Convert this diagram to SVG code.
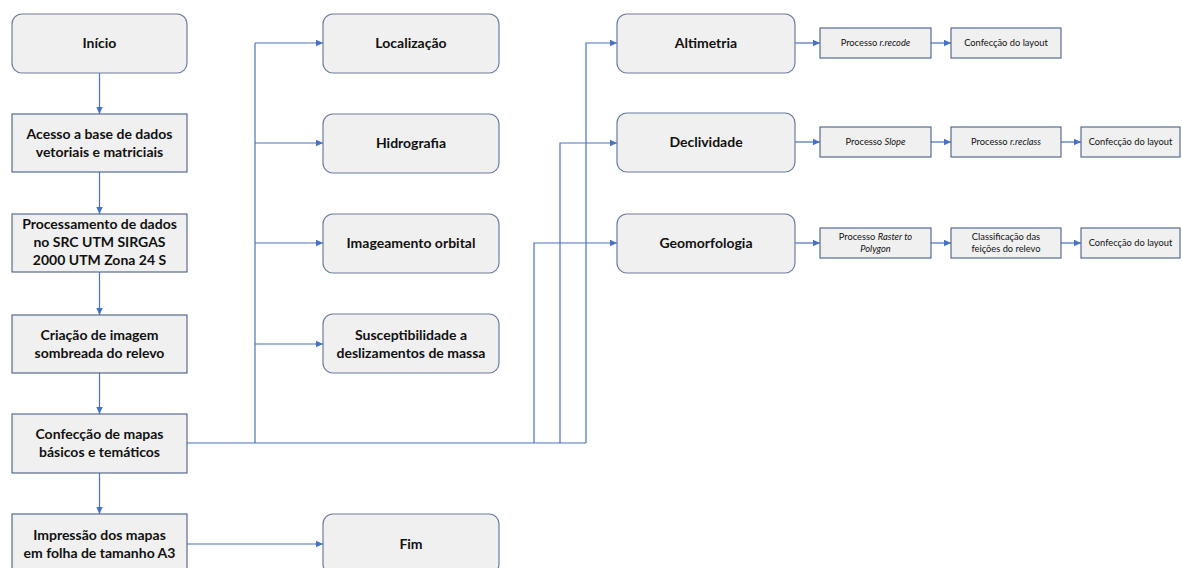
<svg xmlns="http://www.w3.org/2000/svg" width="1182" height="568" viewBox="0 0 1182 568">
<defs>
<marker id="ah" markerUnits="userSpaceOnUse" markerWidth="8" markerHeight="8" refX="7" refY="4" orient="auto">
<path d="M0,0.8 L7,4 L0,7.2 Z" fill="#4472c4"/>
</marker>
<style>
.rb{fill:#f0f0f0;stroke:#6a7d9e;stroke-width:1.2}
.sq{fill:#f0f0f0;stroke:#4a5f85;stroke-width:1.1}
.big{font-family:Lato,"Liberation Sans",sans-serif;font-weight:700;font-size:14px;fill:#111;text-anchor:middle}
.sm{font-family:Lato,"Liberation Sans",sans-serif;font-size:9.3px;fill:#111;text-anchor:middle}
.c{fill:none;stroke:#4472c4;stroke-width:1.2}
.ca{fill:none;stroke:#4472c4;stroke-width:1.2;marker-end:url(#ah)}
</style>
</defs>
<rect width="1182" height="568" fill="#fff"/>
<g id="connectors">
<path class="ca" d="M99.5,73 V114"/>
<path class="ca" d="M99.5,172 V214"/>
<path class="ca" d="M99.5,272 V315"/>
<path class="ca" d="M99.5,373 V414"/>
<path class="ca" d="M99.5,473 V514"/>
<path class="c" d="M187,443 H586"/>
<path class="c" d="M255,443 V43"/>
<path class="ca" d="M255,43 H323"/>
<path class="ca" d="M255,143 H323"/>
<path class="ca" d="M255,243 H323"/>
<path class="ca" d="M255,344 H323"/>
<path class="ca" d="M187,544 H323"/>
<path class="ca" d="M586,443 V43 H617"/>
<path class="ca" d="M560,443 V143 H617"/>
<path class="ca" d="M534,443 V243 H617"/>
<path class="ca" d="M795,43 H820"/>
<path class="ca" d="M931,43 H951"/>
<path class="ca" d="M795,142 H820"/>
<path class="ca" d="M931,142 H951"/>
<path class="ca" d="M1061,142 H1081"/>
<path class="ca" d="M795,243 H820"/>
<path class="ca" d="M931,243 H951"/>
<path class="ca" d="M1061,243 H1081"/>
</g>
<g id="inicio"><rect class="rb" x="12" y="14" width="175" height="59" rx="10"/><text class="big" x="99.5" y="48">Início</text></g>
<g id="acesso"><rect class="sq" x="12" y="114" width="175" height="58"/><text class="big" x="99.5" y="139">Acesso a base de dados</text><text class="big" x="99.5" y="157">vetoriais e matriciais</text></g>
<g id="processamento"><rect class="sq" x="12" y="214" width="175" height="58"/><text class="big" x="99.5" y="229">Processamento de dados</text><text class="big" x="99.5" y="247">no SRC UTM SIRGAS</text><text class="big" x="99.5" y="265">2000 UTM Zona 24 S</text></g>
<g id="criacao"><rect class="sq" x="12" y="315" width="175" height="58"/><text class="big" x="99.5" y="340">Criação de imagem</text><text class="big" x="99.5" y="358">sombreada do relevo</text></g>
<g id="confeccao"><rect class="sq" x="12" y="414" width="175" height="59"/><text class="big" x="99.5" y="439">Confecção de mapas</text><text class="big" x="99.5" y="457">básicos e temáticos</text></g>
<g id="impressao"><rect class="sq" x="12" y="514" width="175" height="60"/><text class="big" x="99.5" y="540">Impressão dos mapas</text><text class="big" x="99.5" y="558">em folha de tamanho A3</text></g>
<g id="localizacao"><rect class="rb" x="323" y="14" width="176" height="59" rx="10"/><text class="big" x="411" y="48">Localização</text></g>
<g id="hidrografia"><rect class="rb" x="323" y="114" width="176" height="59" rx="10"/><text class="big" x="411" y="148">Hidrografia</text></g>
<g id="imageamento"><rect class="rb" x="323" y="214" width="176" height="59" rx="10"/><text class="big" x="411" y="248">Imageamento orbital</text></g>
<g id="susceptibilidade"><rect class="rb" x="323" y="314" width="176" height="59" rx="10"/><text class="big" x="411" y="340">Susceptibilidade a</text><text class="big" x="411" y="358">deslizamentos de massa</text></g>
<g id="fim"><rect class="rb" x="323" y="514" width="176" height="60" rx="10"/><text class="big" x="411" y="549">Fim</text></g>
<g id="altimetria"><rect class="rb" x="617" y="14" width="178" height="59" rx="10"/><text class="big" x="706" y="48">Altimetria</text></g>
<g id="declividade"><rect class="rb" x="617" y="113" width="178" height="59" rx="10"/><text class="big" x="706" y="147">Declividade</text></g>
<g id="geomorfologia"><rect class="rb" x="617" y="214" width="178" height="59" rx="10"/><text class="big" x="706" y="248">Geomorfologia</text></g>
<g id="recode"><rect class="sq" x="820" y="28" width="111" height="30"/><text class="sm" x="875.5" y="46">Processo <tspan font-style="italic">r.recode</tspan></text></g>
<g id="layout1"><rect class="sq" x="951" y="28" width="110" height="30"/><text class="sm" x="1006" y="46">Confecção do layout</text></g>
<g id="slope"><rect class="sq" x="820" y="127" width="111" height="30"/><text class="sm" x="875.5" y="145">Processo <tspan font-style="italic">Slope</tspan></text></g>
<g id="reclass"><rect class="sq" x="951" y="127" width="110" height="30"/><text class="sm" x="1006" y="145">Processo <tspan font-style="italic">r.reclass</tspan></text></g>
<g id="layout2"><rect class="sq" x="1081" y="127" width="99" height="30"/><text class="sm" x="1130.5" y="145">Confecção do layout</text></g>
<g id="raster"><rect class="sq" x="820" y="228" width="111" height="30"/><text class="sm" x="875.5" y="240">Processo <tspan font-style="italic">Raster to</tspan></text><text class="sm" x="875.5" y="252" font-style="italic">Polygon</text></g>
<g id="classificacao"><rect class="sq" x="951" y="228" width="110" height="30"/><text class="sm" x="1006" y="240">Classificação das</text><text class="sm" x="1006" y="252">feições do relevo</text></g>
<g id="layout3"><rect class="sq" x="1081" y="228" width="99" height="30"/><text class="sm" x="1130.5" y="246">Confecção do layout</text></g>
</svg>
